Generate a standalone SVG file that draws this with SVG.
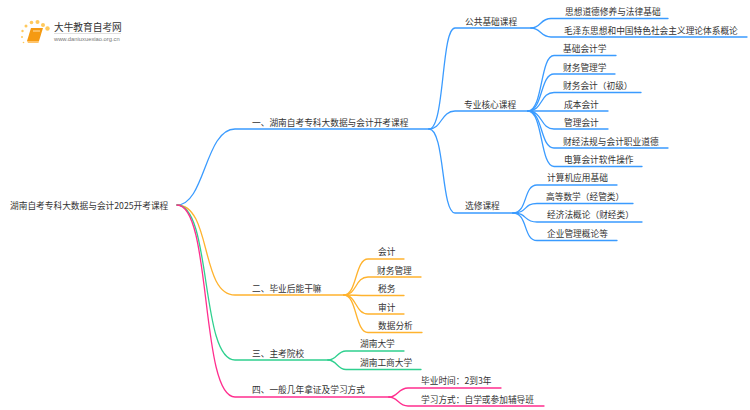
<svg xmlns="http://www.w3.org/2000/svg" width="750" height="410" viewBox="0 0 750 410">
<style>
text{font-family:"Noto Sans CJK SC","Liberation Sans",sans-serif;font-size:8.7px;fill:#333}
.c{fill:none;stroke-width:1.3;stroke-linecap:round}
.b{stroke:#3a9bff}.o{stroke:#ffb32e}.g{stroke:#2fd08f}.p{stroke:#ff2e8e}
.d{fill:#ffc95c}
</style>
<rect width="750" height="410" fill="#fff"/>
<g id="connectors">
<g class="c b">
<path d="M177 205C205 205 205 129 235 129H429"/>
<path d="M429 129C445 129 441 28 455 28H531"/>
<path d="M429 129C442 129 441 111 455 111H528"/>
<path d="M429 129C445 129 441 213 455 213H513"/>
<path d="M531 28C541 28 540 18.500 551 18.500H668"/>
<path d="M531 28C541 28 540 37 551 37H747"/>
<path d="M528 111C543 111 540 55.500 554 55.500H616"/>
<path d="M528 111C543 111 540 74 554 74H615"/>
<path d="M528 111C543 111 540 92.500 554 92.500H641"/>
<path d="M528 111C543 111 540 111 554 111H608"/>
<path d="M528 111C543 111 540 129 554 129H608"/>
<path d="M528 111C543 111 540 148 554 148H668"/>
<path d="M528 111C543 111 540 166.500 554 166.500H642"/>
<path d="M513 213C528 213 523 185 537 185H617"/>
<path d="M513 213C528 213 523 203.500 537 203.500H633"/>
<path d="M513 213C528 213 523 222 537 222H642"/>
<path d="M513 213C528 213 523 240.500 537 240.500H617"/>
</g>
<g class="c o">
<path d="M177 205C212 205 200 295 235 295H344"/>
<path d="M344 295C357 295 355 259 368 259H404"/>
<path d="M344 295C357 295 355 277 368 277H421"/>
<path d="M344 295C357 295 355 295.500 368 295.500H404"/>
<path d="M344 295C357 295 355 314 368 314H404"/>
<path d="M344 295C357 295 355 332.500 368 332.500H422"/>
</g>
<g class="c g">
<path d="M177 205C212 205 200 360 235 360H328"/>
<path d="M328 360C337 360 337 351 346 351H404"/>
<path d="M328 360C337 360 337 369.500 346 369.500H421"/>
</g>
<g class="c p">
<path d="M177 205C212 205 200 397 235 397H389"/>
<path d="M389 397C398 397 398 388 408 388H501"/>
<path d="M389 397C398 397 398 406 408 406H544"/>
</g>
</g>
<g id="logo">
<circle class="d" cx="47.500" cy="28.500" r="2.200"/><circle class="d" cx="43" cy="25" r="2"/><circle class="d" cx="37.500" cy="22" r="2"/><circle class="d" cx="31.500" cy="22.500" r="1.800"/><circle class="d" cx="26" cy="26" r="1.500"/><circle class="d" cx="22.500" cy="31" r="1.200"/><circle class="d" cx="22" cy="37" r="1"/><circle class="d" cx="23.500" cy="42.500" r=".8"/>
<path d="M31 28H43L39 41H27Z" fill="#f59a12"/><path d="M27 41H39L38.500 43H28Z" fill="#ffc46a"/><path d="M33 31H40" stroke="#ffe2ae" stroke-width="1"/>
<text x="54" y="30.500" style="font-size:9.700px">大牛教育自考网</text>
<rect x="54" y="33" width="67" height=".6" fill="#ccc"/>
<text x="54" y="41" style="font-family:'Liberation Sans',sans-serif;font-size:5.800px;fill:#777">www.daniuxuexiao.org.cn</text>
</g>
<g id="root"><text x="10" y="208.500">湖南自考专科大数据与会计2025开考课程</text></g>
<g id="n1"><text x="252" y="125.500">一、湖南自考专科大数据与会计开考课程</text></g>
<g id="n1-1"><text x="465" y="24.500">公共基础课程</text></g>
<g id="n1-1-1"><text x="565" y="15">思想道德修养与法律基础</text></g>
<g id="n1-1-2"><text x="564" y="33.500">毛泽东思想和中国特色社会主义理论体系概论</text></g>
<g id="n1-2"><text x="464" y="107.500">专业核心课程</text></g>
<g id="n1-2-1"><text x="563" y="52">基础会计学</text></g>
<g id="n1-2-2"><text x="563" y="70.500">财务管理学</text></g>
<g id="n1-2-3"><text x="563" y="89">财务会计（初级）</text></g>
<g id="n1-2-4"><text x="564" y="107.500">成本会计</text></g>
<g id="n1-2-5"><text x="564" y="125.500">管理会计</text></g>
<g id="n1-2-6"><text x="563" y="144.500">财经法规与会计职业道德</text></g>
<g id="n1-2-7"><text x="564" y="162.500">电算会计软件操作</text></g>
<g id="n1-3"><text x="465" y="209">选修课程</text></g>
<g id="n1-3-1"><text x="547" y="181">计算机应用基础</text></g>
<g id="n1-3-2"><text x="546" y="199.500">高等数学（经管类）</text></g>
<g id="n1-3-3"><text x="547" y="218">经济法概论（财经类）</text></g>
<g id="n1-3-4"><text x="547" y="236.500">企业管理概论等</text></g>
<g id="n2"><text x="252" y="291.500">二、毕业后能干嘛</text></g>
<g id="n2-1"><text x="378" y="255">会计</text></g>
<g id="n2-2"><text x="377" y="273.500">财务管理</text></g>
<g id="n2-3"><text x="378" y="292">税务</text></g>
<g id="n2-4"><text x="378" y="310.500">审计</text></g>
<g id="n2-5"><text x="378" y="329">数据分析</text></g>
<g id="n3"><text x="252" y="356.500">三、主考院校</text></g>
<g id="n3-1"><text x="360" y="347">湖南大学</text></g>
<g id="n3-2"><text x="360" y="366">湖南工商大学</text></g>
<g id="n4"><text x="252" y="393">四、一般几年拿证及学习方式</text></g>
<g id="n4-1"><text x="421" y="384">毕业时间：2到3年</text></g>
<g id="n4-2"><text x="421" y="402.500">学习方式：自学或参加辅导班</text></g>
</svg>
